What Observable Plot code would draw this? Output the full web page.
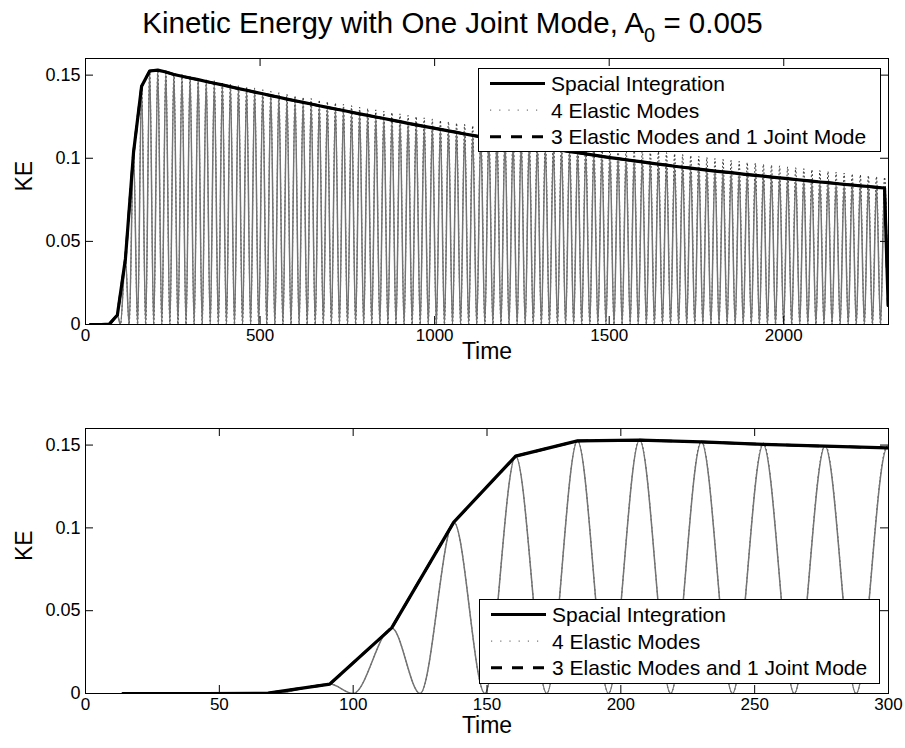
<!DOCTYPE html>
<html><head><meta charset="utf-8">
<script src="https://cdn.jsdelivr.net/npm/d3@7"></script>
<script src="https://cdn.jsdelivr.net/npm/@observablehq/plot@0.6"></script>
<style>
html,body{margin:0;padding:0;background:#fff;}
#wrap{position:relative;width:905px;height:748px;overflow:hidden;background:#fff;font-family:"Liberation Sans",Arial,Helvetica,sans-serif;color:#000;}
#title{position:absolute;left:0;top:5px;width:905px;text-align:center;font-size:29.5px;line-height:36px;white-space:nowrap;z-index:5;}
#title sub{font-size:20px;vertical-align:-9px;line-height:0;}
.panel{position:absolute;left:0;z-index:1;}
.legend{position:absolute;z-index:3;}
</style>
</head><body>
<div id="wrap">
  <div id="p1" class="panel" style="top:40px"></div>
  <div id="p2" class="panel" style="top:400px"></div>
  <div id="title">Kinetic Energy with One Joint Mode, A<sub>0</sub> = 0.005</div>
</div>
<script>
// ---- data ----
// times of successive oscillation peaks (every ~23 time units)
const peakTime = [91.3,114.4,137.6,160.7,183.8,207.0,230.1,253.2,276.3,299.5,
322.6,345.7,368.9,392.0,415.1,438.2,461.4,484.5,507.6,530.8,
553.9,577.0,600.2,623.3,646.4,669.6,692.7,715.8,738.9,762.1,
785.2,808.3,831.5,854.6,877.7,900.9,924.0,947.1,970.2,993.4,
1016.5,1039.6,1062.8,1085.9,1109.0,1132.2,1155.3,1178.4,1201.5,1224.7,
1247.8,1270.9,1294.1,1317.2,1340.3,1363.5,1386.6,1409.7,1432.8,1456.0,
1479.1,1502.2,1525.4,1548.5,1571.6,1594.8,1617.9,1641.0,1664.1,1687.3,
1710.4,1733.5,1756.7,1779.8,1802.9,1826.1,1849.2,1872.3,1895.4,1918.6,
1941.7,1964.8,1988.0,2011.1,2034.2,2057.4,2080.5,2103.6,2126.7,2149.9,
2173.0,2196.1,2219.3,2242.4,2265.5,2288.7];
// Spacial Integration KE at each peak
const spatialKE = [0.0057,0.0396,0.1035,0.1433,0.1525,0.1530,0.1519,0.1504,0.1493,0.1483,
0.1473,0.1462,0.1451,0.1441,0.1430,0.1419,0.1409,0.1398,0.1388,0.1377,
0.1367,0.1356,0.1346,0.1336,0.1326,0.1316,0.1306,0.1296,0.1287,0.1277,
0.1267,0.1258,0.1248,0.1239,0.1229,0.1220,0.1210,0.1201,0.1192,0.1183,
0.1174,0.1165,0.1156,0.1146,0.1138,0.1129,0.1121,0.1112,0.1103,0.1095,
0.1087,0.1079,0.1071,0.1063,0.1056,0.1048,0.1040,0.1033,0.1026,0.1019,
0.1011,0.1004,0.0998,0.0991,0.0984,0.0978,0.0971,0.0965,0.0959,0.0952,
0.0946,0.0941,0.0935,0.0929,0.0923,0.0918,0.0913,0.0907,0.0902,0.0897,
0.0892,0.0887,0.0882,0.0877,0.0872,0.0867,0.0862,0.0857,0.0853,0.0848,
0.0843,0.0839,0.0834,0.0830,0.0825,0.0821];
// 4 Elastic Modes KE at each peak (slightly above the envelope)
const elasticKE = [0.0057,0.0396,0.1035,0.1433,0.1527,0.1534,0.1525,0.1512,0.1503,0.1494,
0.1485,0.1476,0.1466,0.1458,0.1448,0.1439,0.1430,0.1421,0.1412,0.1403,
0.1394,0.1385,0.1376,0.1367,0.1359,0.1350,0.1341,0.1333,0.1325,0.1316,
0.1307,0.1300,0.1291,0.1283,0.1275,0.1267,0.1258,0.1251,0.1243,0.1235,
0.1228,0.1220,0.1212,0.1203,0.1196,0.1188,0.1181,0.1173,0.1165,0.1158,
0.1151,0.1144,0.1137,0.1130,0.1124,0.1117,0.1110,0.1104,0.1097,0.1091,
0.1083,0.1077,0.1071,0.1064,0.1058,0.1052,0.1045,0.1040,0.1034,0.1027,
0.1022,0.1017,0.1011,0.1005,0.0998,0.0993,0.0987,0.0981,0.0975,0.0970,
0.0964,0.0959,0.0953,0.0948,0.0942,0.0937,0.0931,0.0926,0.0921,0.0916,
0.0910,0.0906,0.0900,0.0896,0.0890,0.0886];
// times where the oscillating KE returns to zero
const troughTime = [14,70,100.0,125.0,
149.2,172.3,195.4,218.6,241.7,264.8,287.9,311.1,334.2,357.3,
380.5,403.6,426.7,449.8,473.0,496.1,519.2,542.4,565.5,588.6,
611.8,634.9,658.0,681.2,704.3,727.4,750.5,773.7,796.8,819.9,
843.1,866.2,889.3,912.5,935.6,958.7,981.8,1005.0,1028.1,1051.2,
1074.4,1097.5,1120.6,1143.8,1166.9,1190.0,1213.1,1236.3,1259.4,1282.5,
1305.7,1328.8,1351.9,1375.1,1398.2,1421.3,1444.4,1467.6,1490.7,1513.8,
1537.0,1560.1,1583.2,1606.4,1629.5,1652.6,1675.7,1698.9,1722.0,1745.1,
1768.3,1791.4,1814.5,1837.7,1860.8,1883.9,1907.0,1930.2,1953.3,1976.4,
1999.6,2022.7,2045.8,2069.0,2092.1,2115.2,2138.3,2161.5,2184.6,2207.7,
2230.9,2254.0,2277.1];
// start and end of the envelope
const leadTime = [14, 45, 68.2];
const leadKE = [0, 0, 0.0002];
const endTime = [2299];
const endKE = [0.0115];

const yTicks = [0, 0.05, 0.1, 0.15];
const yTickLabels = ["0", "0.05", "0.1", "0.15"];
const xTicksTop = [0, 500, 1000, 1500, 2000];
const xTickLabelsTop = ["0", "500", "1000", "1500", "2000"];
const xTicksBottom = [0, 50, 100, 150, 200, 250, 300];
const xTickLabelsBottom = ["0", "50", "100", "150", "200", "250", "300"];

const legendLabels = ["Spacial Integration", "4 Elastic Modes", "3 Elastic Modes and 1 Joint Mode"];

// ---- tables built from the arrays ----
const pk = (vals) => peakTime.map((t, i) => ({t, ke: vals[i]}));
const tail = endTime.map((t, i) => ({t, ke: endKE[i]}));
const spatialTable = leadTime.map((t, i) => ({t, ke: leadKE[i]})).concat(pk(spatialKE), tail);
const troughs = troughTime.map(t => ({t, ke: 0}));
const oscTable = troughs.concat(pk(spatialKE), tail).sort((a, b) => a.t - b.t);
const elasticTable = troughs.concat(pk(elasticKE), tail).sort((a, b) => a.t - b.t);

const FONT = '"Liberation Sans", Arial, Helvetica, sans-serif';
const W = 905, ML = 85, MR = 17;

function panel({domain, xTicks, xLabels, height, marginTop, marginBottom, labelDy}) {
  const fh = height - marginTop - marginBottom;
  const fw = W - ML - MR;
  const tk = 8;
  return Plot.plot({
    width: W, height, marginLeft: ML, marginRight: MR, marginTop, marginBottom,
    style: {fontFamily: FONT, background: "transparent", color: "black", overflow: "visible"},
    x: {domain, label: null},
    y: {domain: [0, 0.16], label: null},
    marks: [
      Plot.line(elasticTable, {x: "t", y: "ke", curve: "monotone-x", stroke: "#222", strokeWidth: 1, strokeDasharray: "1,3", clip: true}),
      Plot.line(oscTable, {x: "t", y: "ke", curve: "monotone-x", stroke: "#747474", strokeWidth: 1.5, clip: true}),
      Plot.line(spatialTable, {x: "t", y: "ke", stroke: "black", strokeWidth: 3.2, strokeLinejoin: "round", clip: true}),
      Plot.line(spatialTable, {x: "t", y: "ke", stroke: "black", strokeWidth: 2.5, strokeDasharray: "11,10", clip: true}),
      Plot.frame({stroke: "black", strokeWidth: 1}),
      Plot.tickX(xTicks, {x: d => d, insetTop: fh - tk, stroke: "black"}),
      Plot.tickX(xTicks, {x: d => d, insetBottom: fh - tk, stroke: "black"}),
      Plot.tickY(yTicks, {y: d => d, insetRight: fw - tk, stroke: "black"}),
      Plot.tickY(yTicks, {y: d => d, insetLeft: fw - tk, stroke: "black"}),
      Plot.axisX(xTicks, {tickSize: 0, tickPadding: 4, fontSize: 17, label: null,
        tickFormat: d => xLabels[xTicks.indexOf(d)]}),
      Plot.axisY(yTicks, {tickSize: 0, tickPadding: 5, fontSize: 18, label: null,
        tickFormat: d => yTickLabels[yTicks.indexOf(d)]}),
      Plot.text(["Time"], {frameAnchor: "bottom", text: d => d, dy: labelDy, fontSize: 23, lineAnchor: "middle"}),
      Plot.text(["KE"], {frameAnchor: "left", text: d => d, dx: -61, rotate: -90, fontSize: 23, lineAnchor: "middle"})
    ]
  });
}

document.getElementById("p1").append(panel({
  domain: [0, 2300], xTicks: xTicksTop, xLabels: xTickLabelsTop,
  height: 330, marginTop: 18, marginBottom: 46, labelDy: 27
}));
document.getElementById("p2").append(panel({
  domain: [0, 300], xTicks: xTicksBottom, xLabels: xTickLabelsBottom,
  height: 348, marginTop: 28, marginBottom: 55, labelDy: 32
}));

// ---- legends ----
const legendStyles = [
  {stroke: "black", width: 3.2, dash: null},
  {stroke: "#555", width: 1, dash: "1.2,8"},
  {stroke: "black", width: 3, dash: "11,10"}
];
function legend(left, top, w, h) {
  const svg = d3.select("#wrap").append("svg")
    .attr("class", "legend").attr("width", w).attr("height", h)
    .style("left", left + "px").style("top", top + "px");
  svg.append("rect").attr("x", 0.5).attr("y", 0.5).attr("width", w - 1).attr("height", h - 1)
    .attr("fill", "white").attr("stroke", "black").attr("stroke-width", 1);
  legendLabels.forEach((lab, i) => {
    const y = 15.5 + i * 26.6;
    const s = legendStyles[i];
    svg.append("line").attr("x1", 12).attr("x2", 67).attr("y1", y).attr("y2", y)
      .attr("stroke", s.stroke).attr("stroke-width", s.width)
      .attr("stroke-dasharray", s.dash);
    svg.append("text").attr("x", 73).attr("y", y).attr("dy", "0.36em")
      .attr("font-family", FONT).attr("font-size", 21).attr("fill", "black").text(lab);
  });
}
legend(478, 68, 403, 84);
legend(479, 599, 401, 85);
</script>
</body></html>
